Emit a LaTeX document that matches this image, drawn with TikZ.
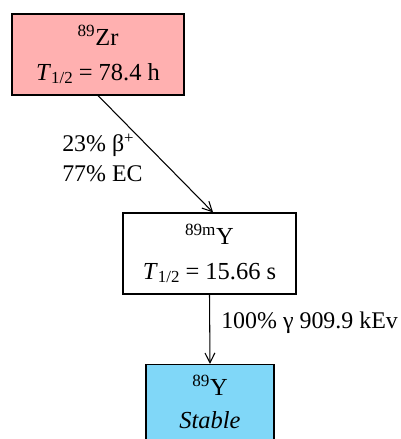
\documentclass[tikz,border=0pt]{standalone}
\usepackage{fontspec}
\setmainfont{Liberation Serif}
\usetikzlibrary{arrows.meta, positioning, calc}
\definecolor{zrfill}{HTML}{FFB0B0}
\definecolor{yfill}{HTML}{80D7F8}
\definecolor{edgecolor}{HTML}{000000}

\newcommand{\thalf}{\textit{T}\raisebox{-0.3ex}{\fontsize{12}{12}\selectfont 1/2}}

\begin{document}
\begin{tikzpicture}[
    x=0.025cm, y=-0.025cm,
    every node/.style={font=\fontsize{17.4}{22.8}\selectfont},
    level/.style={draw=edgecolor, line width=0.75pt, align=center,
        inner sep=0pt, minimum height=81*0.025cm},
    lab/.style={font=\fontsize{17}{20}\selectfont, inner sep=0pt},
    decay/.style={edgecolor, line width=0.75pt,
        -{Straight Barb[length=7pt, width=7pt]}},
]

\useasboundingbox (0,0) rectangle (400,439);

% ---------------------------------------------------------------- levels
\node[level, fill=zrfill, minimum width=172*0.025cm] (zr) at (98,54.5)
    {\textsuperscript{89}Zr\\[2pt] \thalf{} = 78.4 h};
\node[level, fill=white, minimum width=173*0.025cm] (ym) at (209.5,253.5)
    {\textsuperscript{89m}Y\\[2pt] \thalf{} = 15.66 s};
\node[level, fill=yfill, minimum width=128*0.025cm, minimum height=75*0.025cm]
    (y) at (210,402)
    {\textsuperscript{89}Y\\[1pt] \textit{Stable}};

% ---------------------------------------------------------------- decays
\draw[decay] (zr.south) -- ([xshift=0.09cm]ym.north);
\draw[decay] (ym.south) -- (y.north);

\node[lab, anchor=base west] (beta) at (62,152) {23\% β\textsuperscript{+}};
\node[lab, anchor=base west] (ec) at (62,181) {77\% EC};
\node[lab, anchor=base west] (gam) at (221,328) {100\% γ 909.9 kEv};

\end{tikzpicture}
\end{document}
